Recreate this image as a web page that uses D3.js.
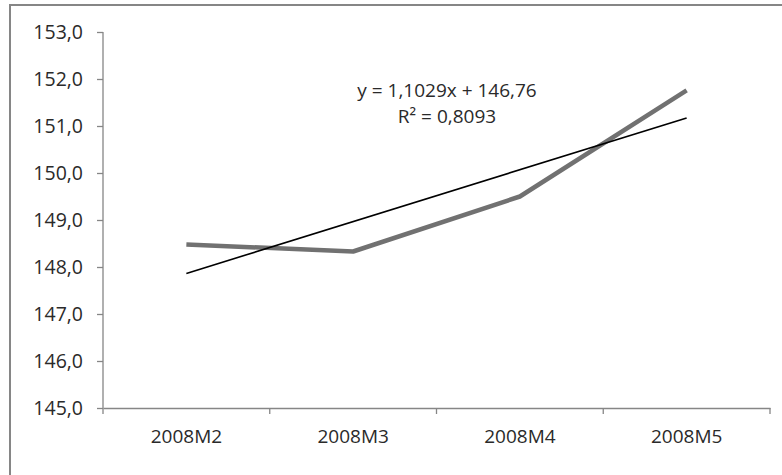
<!DOCTYPE html>
<html>
<head>
<meta charset="utf-8">
<script src="https://cdn.jsdelivr.net/npm/d3@7"></script>
<style>
  body { margin: 0; background: #fff; }
  text { font-family: "Open Sans", sans-serif; fill: #2a2a2a; }
</style>
</head>
<body>
<svg width="782" height="475"></svg>
<script>
// Data
var categories = ["2008M2", "2008M3", "2008M4", "2008M5"];
var values = [148.48, 148.33, 149.50, 151.76];
var yTicks = [145, 146, 147, 148, 149, 150, 151, 152, 153];
// trendline as printed on the chart
var slope = 1.1029, intercept = 146.76;
var eqLines = ["y = 1,1029x + 146,76", "R² = 0,8093"];

var svg = d3.select("svg"),
  width = +svg.attr("width"),
  height = +svg.attr("height");

var margin = {top: 32, right: 12, bottom: 67, left: 103};
var plotW = width - margin.left - margin.right,
  plotH = height - margin.top - margin.bottom;

// outer chart frame (runs off the right and bottom edges)
svg.append("rect")
  .attr("x", 10).attr("y", 5)
  .attr("width", 800).attr("height", 480)
  .attr("fill", "none")
  .attr("stroke", "#868686")
  .attr("stroke-width", 2);

var g = svg.append("g").attr("transform", "translate(" + margin.left + "," + margin.top + ")");

var x = d3.scaleBand().domain(categories).range([0, plotW]);
var y = d3.scaleLinear().domain([145, 153]).range([plotH, 0]);
var fmt = function(d) { return d3.format(".1f")(d).replace(".", ","); };

// y axis
var yAxis = g.append("g")
  .call(d3.axisLeft(y).tickValues(yTicks).tickSize(6).tickPadding(14).tickFormat(fmt));
yAxis.selectAll("text").style("font-size", "19.5px").attr("dy", "0.34em");

// x axis with ticks at band edges
var xAxis = g.append("g").attr("transform", "translate(0," + plotH + ")")
  .call(d3.axisBottom(x).tickSize(0).tickPadding(22));
xAxis.selectAll("text").style("font-size", "19px");
xAxis.selectAll(".edge")
  .data(d3.range(categories.length + 1))
  .enter().append("line")
  .attr("class", "edge")
  .attr("x1", function(i) { return i * x.bandwidth(); })
  .attr("x2", function(i) { return i * x.bandwidth(); })
  .attr("y1", 0).attr("y2", 6);

svg.selectAll(".domain, .tick line, .edge")
  .attr("stroke", "#868686")
  .attr("stroke-width", 1.3);
yAxis.select(".domain").attr("d", "M-0," + plotH + "V0");

var cx = function(d, i) { return x(categories[i]) + x.bandwidth() / 2; };

// data line
g.append("path")
  .datum(values)
  .attr("fill", "none")
  .attr("stroke", "#717171")
  .attr("stroke-width", 4.5)
  .attr("stroke-linejoin", "round")
  .attr("d", d3.line().x(cx).y(function(d) { return y(d); }));

// linear trendline
var trend = [1, categories.length].map(function(n) { return slope * n + intercept; });
g.append("line")
  .attr("x1", x(categories[0]) + x.bandwidth() / 2)
  .attr("x2", x(categories[categories.length - 1]) + x.bandwidth() / 2)
  .attr("y1", y(trend[0]))
  .attr("y2", y(trend[1]))
  .attr("stroke", "#000")
  .attr("stroke-width", 1.6);

// equation label
svg.append("g").selectAll("text")
  .data(eqLines)
  .enter().append("text")
  .attr("x", 447)
  .attr("y", function(d, i) { return 97 + i * 26; })
  .attr("text-anchor", "middle")
  .style("font-size", "19px")
  .text(function(d) { return d; });
</script>
</body>
</html>
